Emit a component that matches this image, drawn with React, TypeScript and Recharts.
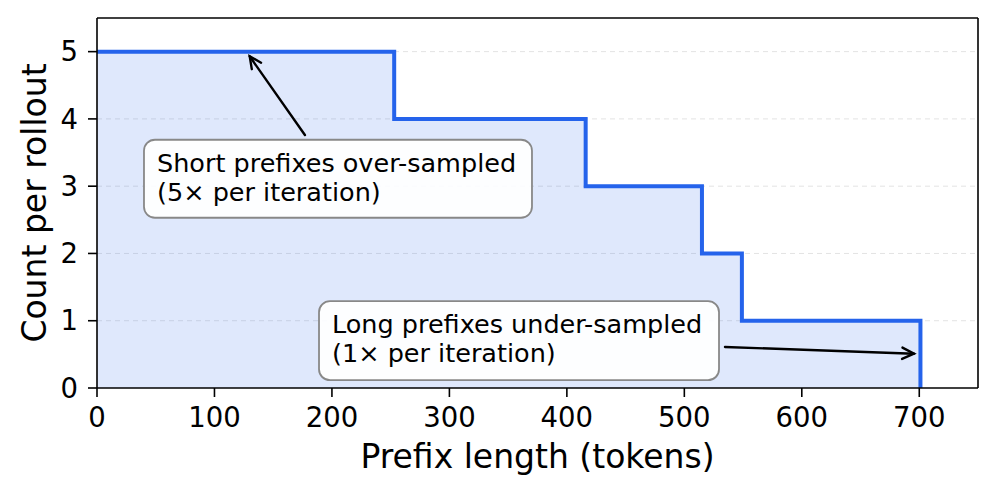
import React from 'react';
import {
  ComposedChart,
  Area,
  XAxis,
  YAxis,
  CartesianGrid,
  ReferenceLine,
  ReferenceDot,
  Label,
} from 'recharts';

// step edges: each prefix length where the count drops by one
const prefixLength = [0, 253, 416, 515, 549, 701];
const countPerRollout = [5, 4, 3, 2, 1, 0];
const xTicks = [0, 100, 200, 300, 400, 500, 600, 700];
const yTicks = [0, 1, 2, 3, 4, 5];

// annotations (data coordinates)
const noteText = [
  ['Short prefixes over-sampled', '(5\u00d7 per iteration)'],
  ['Long prefixes under-sampled', '(1\u00d7 per iteration)'],
];
const noteBoxX = [40, 189];
const noteBoxY = [3.69, 1.29];
const arrowFrom = [[177, 3.76], [534.6, 0.61]];
const arrowTo = [[130, 4.93], [695.5, 0.51]];

const FONT = '"DejaVu Sans", sans-serif';
const BLUE = '#2563eb';

const data = prefixLength.map((x, i) => ({ x, count: countPerRollout[i] }));

function Arrow(props: any) {
  const { x1, y1, x2, y2 } = props;
  const ang = Math.atan2(y2 - y1, x2 - x1);
  const len = 13;
  const spread = 0.45;
  const a = [x2 - len * Math.cos(ang - spread), y2 - len * Math.sin(ang - spread)];
  const b = [x2 - len * Math.cos(ang + spread), y2 - len * Math.sin(ang + spread)];
  return (
    <g stroke="#000" strokeWidth={2.4} fill="none" strokeLinecap="round">
      <line x1={x1} y1={y1} x2={x2} y2={y2} />
      <polyline points={`${a[0]},${a[1]} ${x2},${y2} ${b[0]},${b[1]}`} />
    </g>
  );
}

function noteBox(lines: string[], w: number, h: number) {
  return (props: any) => {
    const { cx, cy } = props;
    return (
      <g>
        <rect
          x={cx}
          y={cy}
          width={w}
          height={h}
          rx={11}
          ry={11}
          fill="#ffffff"
          fillOpacity={0.92}
          stroke="#888888"
          strokeWidth={1.8}
        />
        {lines.map((t, i) => (
          <text key={t} x={cx + 13} y={cy + 32 + i * 29} fontSize={25.5} fontFamily={FONT} fill="#000">
            {t}
          </text>
        ))}
      </g>
    );
  };
}

const boxSizes = [
  [388, 78],
  [400, 79],
];

export default function App() {
  return (
    <div style={{ position: 'absolute', left: 0, top: 0, width: 997, height: 495, background: '#fff' }}>
      <ComposedChart
        width={997}
        height={495}
        data={data}
        margin={{ top: 18, right: 19, bottom: 0, left: 0 }}
        style={{ fontFamily: FONT }}
      >
        <CartesianGrid
          horizontal
          vertical={false}
          stroke="#e3e3e3"
          strokeDasharray="5 4"
          horizontalValues={[1, 2, 3, 4, 5]}
        />
        <XAxis
          dataKey="x"
          type="number"
          domain={[0, 750]}
          ticks={xTicks}
          allowDataOverflow
          height={107}
          tickSize={9}
          tickMargin={10}
          tick={{ fontSize: 27.5, fill: '#000', fontFamily: FONT }}
          axisLine={{ stroke: '#000', strokeWidth: 1.6 }}
          tickLine={{ stroke: '#000', strokeWidth: 1.6 }}
        >
          <Label
            content={(p: any) => {
              const vb = p.viewBox;
              return (
                <text x={vb.x + vb.width / 2} y={vb.y + 80} textAnchor="middle" fontSize={33} fontFamily={FONT} fill="#000">
                  Prefix length (tokens)
                </text>
              );
            }}
          />
        </XAxis>
        <YAxis
          type="number"
          domain={[0, 5.5]}
          ticks={yTicks}
          allowDataOverflow
          width={97}
          tickSize={9}
          tickMargin={10}
          tick={{ fontSize: 27.5, fill: '#000', fontFamily: FONT }}
          axisLine={{ stroke: '#000', strokeWidth: 1.6 }}
          tickLine={{ stroke: '#000', strokeWidth: 1.6 }}
        >
          <Label
            content={(p: any) => {
              const vb = p.viewBox;
              const cx = vb.x + 46;
              const cy = vb.y + vb.height / 2;
              return (
                <text
                  x={cx}
                  y={cy}
                  textAnchor="middle"
                  transform={`rotate(-90, ${cx}, ${cy})`}
                  fontSize={33}
                  fontFamily={FONT}
                  fill="#000"
                >
                  Count per rollout
                </text>
              );
            }}
          />
        </YAxis>
        <Area
          type="stepAfter"
          dataKey="count"
          stroke={BLUE}
          strokeWidth={4}
          fill={BLUE}
          fillOpacity={0.15}
          isAnimationActive={false}
          dot={false}
          activeDot={false}
          strokeLinejoin="miter"
        />
        <ReferenceLine y={5.5} stroke="#000" strokeWidth={1.6} />
        <ReferenceLine x={750} stroke="#000" strokeWidth={1.6} />
        {arrowFrom.map((from, i) => (
          <ReferenceLine
            key={`arrow-${i}`}
            segment={[
              { x: from[0], y: from[1] },
              { x: arrowTo[i][0], y: arrowTo[i][1] },
            ]}
            shape={Arrow}
          />
        ))}
        {noteText.map((lines, i) => (
          <ReferenceDot
            key={`note-${i}`}
            x={noteBoxX[i]}
            y={noteBoxY[i]}
            r={0}
            shape={noteBox(lines, boxSizes[i][0], boxSizes[i][1])}
          />
        ))}
      </ComposedChart>
    </div>
  );
}
